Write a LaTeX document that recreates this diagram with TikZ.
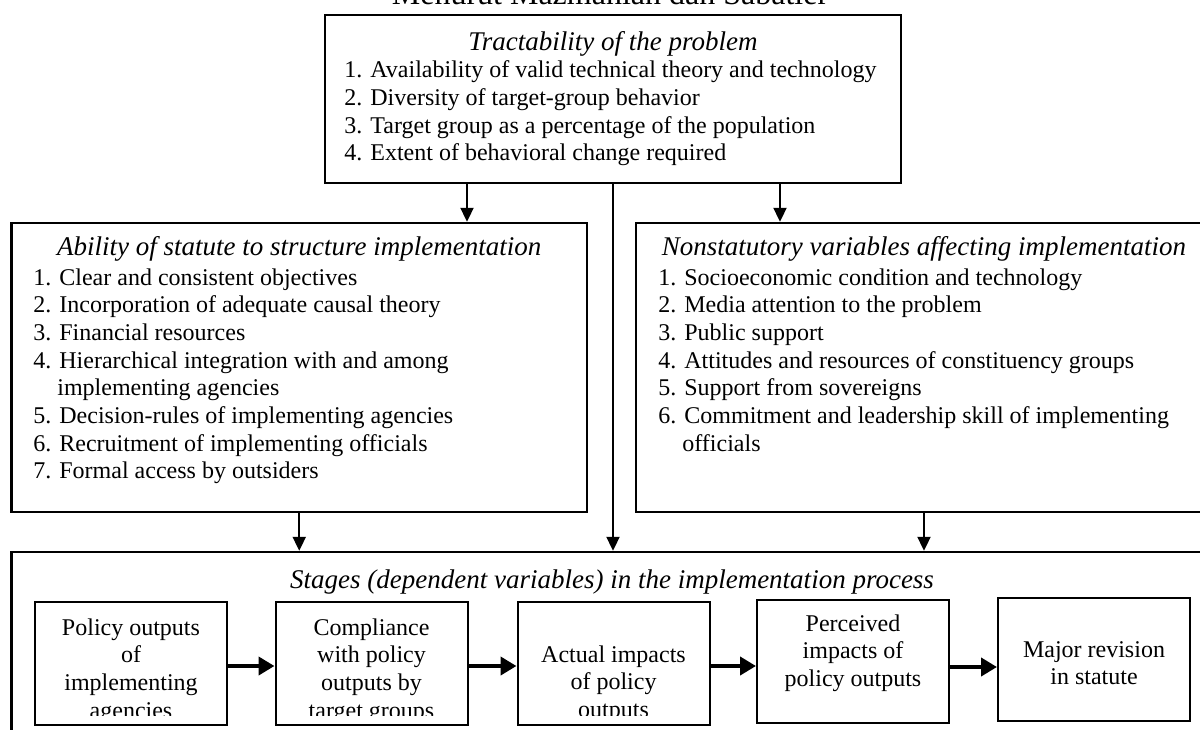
\documentclass[tikz,border=0pt]{standalone}
\usepackage{fontspec}
\setmainfont{Liberation Serif}
\usepackage{tikz}
\usetikzlibrary{arrows.meta}
\tikzstyle{box} = [draw, line width=1.2pt, rectangle, inner sep=0pt]
\tikzstyle{stage} = [draw, line width=1pt, rectangle, inner sep=0pt, minimum width=96pt, minimum height=61.5pt]
\tikzstyle{arrow} = [line width=1pt, -{Triangle[length=7pt, width=6.5pt]}]
\tikzstyle{flow} = [line width=2pt, -{Triangle[length=8pt, width=9pt]}]
\tikzstyle{head} = [anchor=base, inner sep=0pt, font=\fontsize{13.5}{15}\selectfont\itshape]
\tikzstyle{list} = [anchor=base west, inner sep=0pt]
\tikzstyle{stagetext} = [anchor=base, inner sep=0pt]

\begin{document}
\begin{tikzpicture}[x=0.5pt, y=-0.5pt, font=\fontsize{12}{13.85}\selectfont]
    \useasboundingbox (0,0) rectangle (1200,729);
    \clip (0,0) rectangle (1200,729);
    \node[anchor=base, inner sep=0pt, font=\fontsize{16}{18}\selectfont] (title) at (610,4) {Menurut Mazmanian dan Sabatier};

    % upper boxes
    \node[box, minimum width=288pt, minimum height=84pt] (tract) at (613,99) {};
    \node[box, minimum width=287.75pt, minimum height=144.5pt] (statute) at (299.25,367.5) {};
    \node[box, minimum width=288pt, minimum height=144.5pt] (nonstat) at (924,367.5) {};
    \node[box, minimum width=600.25pt, minimum height=100pt] (stages) at (611.75,652) {};

    \node[head] (tracthead) at (613,50) {Tractability of the problem};
    \node[list] (tractlist) at (344,77.7) {\parbox[t]{280pt}{1. Availability of valid technical theory and technology\\2. Diversity of target-group behavior\\3. Target group as a percentage of the population\\4. Extent of behavioral change required}};

    \node[head] (statutehead) at (299.25,255) {Ability of statute to structure implementation};
    \node[list] (statutelist) at (33,285) {\parbox[t]{275pt}{1. Clear and consistent objectives\\2. Incorporation of adequate causal theory\\3. Financial resources\\4. Hierarchical integration with and among\\\hspace*{12pt}implementing agencies\\5. Decision-rules of implementing agencies\\6. Recruitment of implementing officials\\7. Formal access by outsiders}};

    \node[head] (nonstathead) at (924,255) {Nonstatutory variables affecting implementation};
    \node[list] (nonstatlist) at (658,285) {\parbox[t]{275pt}{1. Socioeconomic condition and technology\\2. Media attention to the problem\\3. Public support\\4. Attitudes and resources of constituency groups\\5. Support from sovereigns\\6. Commitment and leadership skill of implementing\\\hspace*{12pt}officials}};

    % stages
    \node[head] (stageshead) at (612,588) {Stages (dependent variables) in the implementation process};
    \node[stage] (output) at (131,663.5) {};
    \node[stage] (comply) at (371.5,663.5) {};
    \node[stage] (impact) at (613.5,663.5) {};
    \node[stage] (perceive) at (853,661) {};
    \node[stage] (revise) at (1094,659) {};
    \begin{scope}
        \clip (0,0) rectangle (1200,715);
        \node[stagetext] (outputtext) at (131,635) {\parbox[t]{90pt}{\centering Policy outputs\\of\\implementing\\agencies}};
        \node[stagetext] (complytext) at (371.5,635) {\parbox[t]{90pt}{\centering Compliance\\with policy\\outputs by\\target groups}};
        \node[stagetext] (impacttext) at (613.5,662) {\parbox[t]{90pt}{\centering Actual impacts\\of policy\\outputs}};
        \node[stagetext] (perceivetext) at (853,631) {\parbox[t]{90pt}{\centering Perceived\\impacts of\\policy outputs}};
        \node[stagetext] (revisetext) at (1094,657) {\parbox[t]{90pt}{\centering Major revision\\in statute}};
    \end{scope}

    % connectors
    \draw[arrow] ([xshift=-73pt]tract.south) -- ([xshift=-73pt]tract.south |- statute.north);
    \draw[arrow] (tract.south) -- (tract.south |- stages.north);
    \draw[arrow] ([xshift=83.5pt]tract.south) -- ([xshift=83.5pt]tract.south |- nonstat.north);
    \draw[arrow] (statute.south) -- (statute.south |- stages.north);
    \draw[arrow] (nonstat.south) -- (nonstat.south |- stages.north);
    \draw[flow] ([yshift=-1.25pt]output.east) -- ([yshift=-1.25pt]comply.west);
    \draw[flow] ([yshift=-1.25pt]comply.east) -- ([yshift=-1.25pt]impact.west);
    \draw[flow] ([yshift=-1.25pt]impact.east) -- ([yshift=-1.25pt]impact.east -| perceive.west);
    \draw[flow] ([yshift=-3pt]perceive.east) -- ([yshift=-3pt]perceive.east -| revise.west);
\end{tikzpicture}
\end{document}
